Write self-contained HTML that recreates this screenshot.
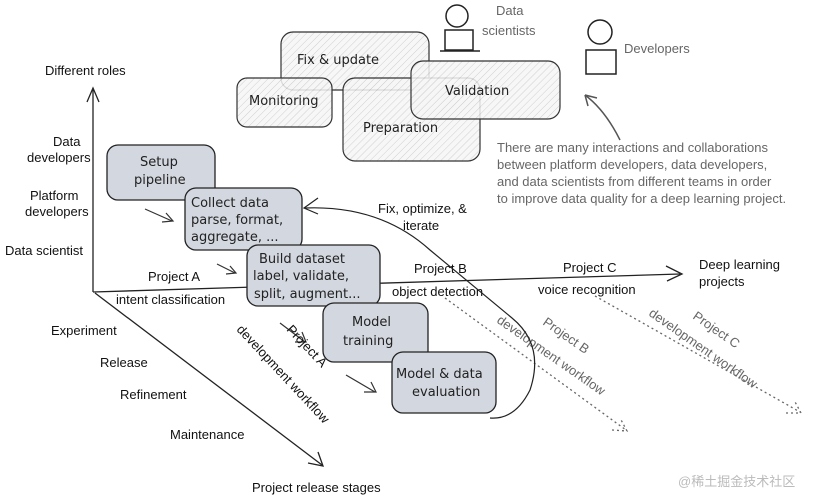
<!DOCTYPE html>
<html><head><meta charset="utf-8"><style>
html,body{margin:0;padding:0;background:#fff;}
svg{display:block;}
text{font-family:"Liberation Sans",sans-serif;}
.h{font-family:"DejaVu Sans","Liberation Sans",sans-serif;font-size:13px;fill:#222;}
.l{font-size:13px;fill:#111;}
.g{font-size:13px;fill:#666;}
</style></head><body>
<svg width="819" height="496" viewBox="0 0 819 496" xmlns="http://www.w3.org/2000/svg">
<defs>
<pattern id="hat" width="5" height="5" patternUnits="userSpaceOnUse" patternTransform="rotate(45)">
<rect width="5" height="5" fill="#f6f6f6"/><line x1="0" y1="0" x2="0" y2="5" stroke="#bbb" stroke-width="0.8"/>
</pattern>
</defs>
<g stroke="#333" stroke-width="1.2" fill="url(#hat)" fill-opacity="0.85">
<rect x="281" y="32" width="148" height="58" rx="12"/>
<rect x="237" y="78" width="95" height="49" rx="10"/>
<rect x="343" y="78" width="137" height="83" rx="12"/>
<rect x="411" y="61" width="149" height="58" rx="12"/>
</g>
<text class="h" x="297" y="64" font-size="14">Fix &amp; update</text>
<text class="h" x="249" y="105" font-size="12">Monitoring</text>
<text class="h" x="363" y="132" font-size="14">Preparation</text>
<text class="h" x="445" y="95" font-size="14">Validation</text>
<g stroke="#222" stroke-width="1.5" fill="none">
<circle cx="457" cy="16" r="11"/><rect x="445" y="30" width="28" height="20" fill="#fff"/><line x1="440" y1="51" x2="480" y2="51"/>
<circle cx="600" cy="32" r="12"/><rect x="586" y="50" width="30" height="24" fill="#fff"/>
</g>
<text class="g" x="496" y="15" font-size="14">Data</text>
<text class="g" x="482" y="35" font-size="14">scientists</text>
<text class="g" x="624" y="53" font-size="15">Developers</text>
<path d="M620 140 Q605 110 585 95" stroke="#555" stroke-width="1.5" fill="none"/>
<path d="M585 95 l12 3 M585 95 l3 11" stroke="#555" stroke-width="1.5" fill="none"/>
<text class="g" x="497" y="152" font-size="13.5">There are many interactions and collaborations</text>
<text class="g" x="497" y="169" font-size="13.5">between platform developers, data developers,</text>
<text class="g" x="497" y="186" font-size="13.5">and data scientists from different teams in order</text>
<text class="g" x="497" y="203" font-size="13.5">to improve data quality for a deep learning project.</text>
<g stroke="#222" stroke-width="1.3" fill="none">
<line x1="93" y1="90" x2="93" y2="292"/><path d="M87 102 L93 88 L99 102"/>
<line x1="93" y1="292" x2="680" y2="274"/><path d="M666 266 L682 274 L667 281"/>
<line x1="95" y1="293" x2="322" y2="465"/><path d="M308 463 L323 466 L318 452"/>
</g>
<text class="l" x="45" y="75">Different roles</text>
<text class="l" x="53" y="146">Data</text>
<text class="l" x="27" y="162">developers</text>
<text class="l" x="30" y="200">Platform</text>
<text class="l" x="25" y="216">developers</text>
<text class="l" x="5" y="255">Data scientist</text>
<text class="l" x="51" y="335">Experiment</text>
<text class="l" x="100" y="367">Release</text>
<text class="l" x="120" y="399">Refinement</text>
<text class="l" x="170" y="439">Maintenance</text>
<text class="l" x="252" y="492">Project release stages</text>
<text class="l" x="148" y="281">Project A</text>
<text class="l" x="116" y="304">intent classification</text>
<text class="l" x="414" y="273">Project B</text>
<text class="l" x="392" y="296">object detection</text>
<text class="l" x="563" y="272">Project C</text>
<text class="l" x="538" y="294">voice recognition</text>
<text class="l" x="699" y="269">Deep learning</text>
<text class="l" x="699" y="286">projects</text>
<text class="l" x="378" y="213">Fix, optimize, &amp;</text>
<text class="l" x="403" y="230">iterate</text>
<g stroke="#666" stroke-width="1.3" stroke-dasharray="2,3" fill="none">
<line x1="445" y1="298" x2="626" y2="430"/><path d="M612 430 L627 431 L620 418"/>
<line x1="595" y1="296" x2="800" y2="412"/><path d="M786 413 L801 413 L794 400"/>
</g>
<text class="g" transform="translate(542,324) rotate(35)">Project B</text>
<text class="g" transform="translate(496,322) rotate(35)">development workflow</text>
<text class="g" transform="translate(692,318) rotate(35)">Project C</text>
<text class="g" transform="translate(648,315) rotate(35)">development workflow</text>
<path d="M490 418 Q515 420 530 390 Q545 345 512 318 L430 250 Q380 205 305 208" stroke="#222" stroke-width="1.2" fill="none"/>
<path d="M318 198 L304 208 L318 214" stroke="#222" stroke-width="1.2" fill="none"/>
<g stroke="#222" stroke-width="1.3" fill="#d3d7df">
<rect x="107" y="145" width="108" height="55" rx="11"/>
<rect x="185" y="188" width="117" height="62" rx="11"/>
<rect x="247" y="245" width="133" height="61" rx="11"/>
<rect x="323" y="303" width="105" height="59" rx="11"/>
<rect x="392" y="352" width="104" height="61" rx="11"/>
</g>
<text class="h" x="140" y="166" font-size="14">Setup</text>
<text class="h" x="134" y="184" font-size="14">pipeline</text>
<text class="h" x="191" y="207" font-size="14">Collect data</text>
<text class="h" x="191" y="224" font-size="13">parse, format,</text>
<text class="h" x="191" y="241" font-size="13">aggregate, ...</text>
<text class="h" x="259" y="263" font-size="14">Build dataset</text>
<text class="h" x="253" y="280" font-size="13">label, validate,</text>
<text class="h" x="254" y="298" font-size="12.5">split, augment...</text>
<text class="h" x="352" y="326" font-size="14">Model</text>
<text class="h" x="343" y="345" font-size="14">training</text>
<text class="h" x="396" y="378" font-size="14">Model &amp; data</text>
<text class="h" x="412" y="396" font-size="14">evaluation</text>
<g stroke="#333" stroke-width="1.2" fill="none">
<path d="M145 209 L172 221 M162 222 L173 221 L166 213"/>
<path d="M217 264 L235 273 M226 274 L236 273 L230 266"/>
<path d="M280 323 L305 342 M295 342 L306 342 L302 332"/>
<path d="M346 375 L375 392 M364 392 L376 392 L371 382"/>
</g>
<text class="l" transform="translate(286,330) rotate(47)">Project A</text>
<text class="l" transform="translate(236,330) rotate(47)">development workflow</text>
<text x="678" y="486" font-size="13" fill="#bbb" font-family="'Liberation Sans','Noto Sans CJK SC',sans-serif">@稀土掘金技术社区</text>
</svg>
</body></html>
